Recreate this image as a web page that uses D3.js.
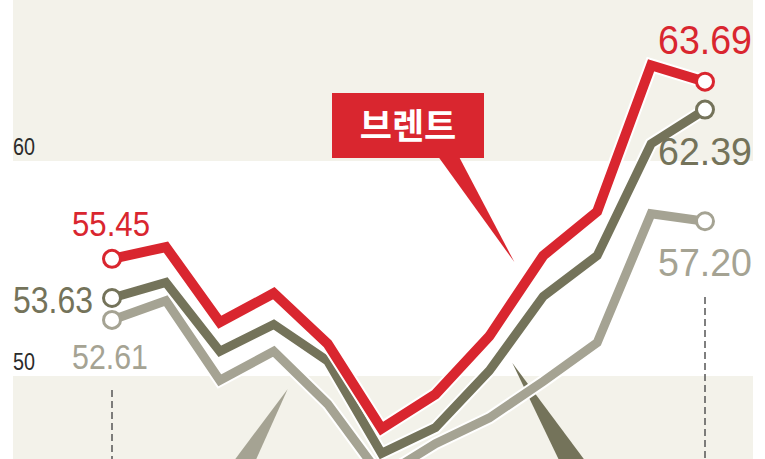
<!DOCTYPE html>
<html lang="ko">
<head>
<meta charset="UTF-8">
<title>브렌트 유가</title>
<style>
    body { margin: 0; background: #fff; }
    svg { display: block; }
    .val { font-family: "Liberation Sans", Arial, sans-serif; }
</style>
</head>
<body>
<script src="https://d3js.org/d3.v7.min.js"></script>
<script>
    // periods (x axis has no visible labels in the crop)
    const periods = ['p1', 'p2', 'p3', 'p4', 'p5', 'p6', 'p7', 'p8', 'p9', 'p10', 'p11', 'p12'];

    // 브렌트 (red), 2nd crude (dark), 3rd crude (light)
    const brent = [55.45, 56.0, 52.5, 53.85, 51.5, 47.55, 49.15, 51.85, 55.6, 57.65, 64.45, 63.69];
    const crudeB = [53.63, 54.35, 51.15, 52.4, 50.7, 46.4, 47.6, 50.25, 53.7, 55.6, 60.8, 62.39];
    const crudeC = [52.61, 53.5, 49.8, 51.15, 48.7, 45.3, 46.85, 48.05, 49.75, 51.55, 57.55, 57.20];

    const yTicks = [50, 60];

    const width = 765;
    const height = 459;

    const svg = d3.select('body').append('svg').attr('width', width).attr('height', height);

    const x = d3.scalePoint().domain(periods).range([112, 705]);
    const y = d3.scaleLinear().domain([50, 60]).range([376, 161]);

    const beige = '#f3f2ea';
    const red = '#d9262f';
    const dark = '#74735a';
    const light = '#a5a393';

    // background bands
    svg.append('rect').attr('x', 13).attr('y', 0).attr('width', 740).attr('height', y(60)).attr('fill', beige);
    svg.append('rect').attr('x', 13).attr('y', y(50)).attr('width', 740).attr('height', height - y(50)).attr('fill', beige);

    // y axis labels sitting above the band edges
    const axis = svg.append('g').attr('transform', 'translate(13,0)')
        .call(d3.axisRight(y).tickValues(yTicks).tickSize(0).tickFormat(d3.format('d')));
    axis.select('.domain').remove();
    axis.selectAll('.tick text')
        .attr('x', 0).attr('dy', null).attr('y', -7).attr('text-anchor', 'start')
        .style('font-family', '"Liberation Sans", Arial, sans-serif')
        .style('font-size', '23px').style('fill', '#2b2b2b')
        .attr('textLength', 22).attr('lengthAdjust', 'spacingAndGlyphs');

    // dashed guides
    const first = periods[0], last = periods[periods.length - 1];
    svg.append('line').attr('x1', x(first)).attr('x2', x(first)).attr('y1', 390).attr('y2', height)
        .attr('stroke', '#555').attr('stroke-width', 1.5).attr('stroke-dasharray', '7,4');
    svg.append('line').attr('x1', x(last)).attr('x2', x(last)).attr('y1', 297).attr('y2', height)
        .attr('stroke', '#555').attr('stroke-width', 1.5).attr('stroke-dasharray', '7,4');

    // callout tails for the other two series (labels are cut off below)
    svg.append('path').attr('fill', light)
        .attr('d', `M${x(periods[3]) + 14},${y(49.4)} L${x(periods[2]) + 8},${height + 10} L${x(periods[2]) + 32},${height + 10} Z`);
    svg.append('path').attr('fill', dark)
        .attr('d', `M${x(periods[7]) + 23},${y(50.6)} L${x(periods[8]) + 20},${height + 10} L${x(periods[8]) + 48},${height + 10} Z`);

    const line = d3.line().x((d, i) => x(periods[i])).y(d => y(d));

    const series = [
        {values: crudeC, color: light, w: 9},
        {values: crudeB, color: dark, w: 9},
        {values: brent, color: red, w: 10}
    ];

    series.forEach(s => {
        svg.append('path').attr('d', line(s.values)).attr('fill', 'none')
            .attr('stroke', '#fff').attr('stroke-width', s.w + 4).attr('stroke-linejoin', 'miter');
        svg.append('path').attr('d', line(s.values)).attr('fill', 'none')
            .attr('stroke', s.color).attr('stroke-width', s.w).attr('stroke-linejoin', 'miter');
    });

    // end circles
    series.forEach(s => {
        const ends = [0, s.values.length - 1];
        svg.selectAll(null).data(ends).enter().append('circle')
            .attr('cx', i => x(periods[i])).attr('cy', i => y(s.values[i]))
            .attr('r', 8.5).attr('fill', '#fff').attr('stroke', s.color).attr('stroke-width', 3);
    });

    // value labels
    function label(val, color, tx, ty, anchor, size, len) {
        svg.append('text').attr('class', 'val')
            .attr('x', tx).attr('y', ty).attr('text-anchor', anchor)
            .attr('font-size', size).attr('fill', color)
            .attr('textLength', len).attr('lengthAdjust', 'spacingAndGlyphs')
            .text(val.toFixed(2));
    }
    label(brent[0], red, x(first) - 1, y(brent[0]) - 23, 'middle', 35, 78);
    label(crudeB[0], dark, x(first) - 19, y(crudeB[0]) + 15, 'end', 36, 80);
    label(crudeC[0], light, x(first) - 2, y(crudeC[0]) + 49, 'middle', 35, 76);
    label(brent[11], red, x(last), y(brent[11]) - 28, 'middle', 41, 94);
    label(crudeB[11], dark, x(last), y(crudeB[11]) + 55, 'middle', 39, 94);
    label(crudeC[11], light, x(last), y(crudeC[11]) + 55, 'middle', 39, 94);

    // 브렌트 callout
    const cb = svg.append('g');
    cb.append('path').attr('fill', red)
        .attr('d', `M${x(periods[6]) - 2},150 L${x(periods[7]) + 25},${y(55.3)} L${x(periods[6]) + 20},150 Z`);
    cb.append('rect').attr('x', 332).attr('y', 93).attr('width', 152).attr('height', 65).attr('fill', red);
    cb.append('text').attr('x', 408).attr('y', 139).attr('text-anchor', 'middle')
        .attr('font-family', '"Noto Sans CJK KR", sans-serif').attr('font-weight', 'bold')
        .attr('font-size', 35).attr('fill', '#fff').text('브렌트');
</script>
</body>
</html>
